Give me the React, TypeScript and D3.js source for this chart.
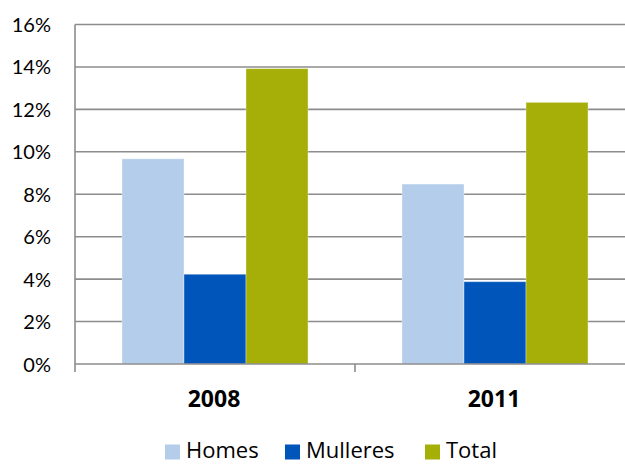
import React from "react";
import * as d3 from "d3";

const categories = ["2008", "2011"];
const seriesNames = ["Homes", "Mulleres", "Total"];
const homes = [9.67, 8.48];
const mulleres = [4.23, 3.88];
const total = [13.92, 12.33];
const yTicks = [0, 2, 4, 6, 8, 10, 12, 14, 16];
const colors = ["#B3CDEB", "#0055BB", "#A5AF07"];

export default function App() {
  const W = 625, H = 464;
  const left = 75, right = 635, top = 24.5, bottom = 364;
  const font = "'Open Sans', Lato, sans-serif";
  const x0 = d3.scaleBand().domain(categories).range([left, right]).paddingInner(0).paddingOuter(0);
  const catW = x0.bandwidth();
  const x1 = d3.scaleBand().domain(seriesNames).range([47, catW - 47]).padding(0);
  const y = d3.scaleLinear().domain([0, 16]).range([bottom, top]);
  const values = [homes, mulleres, total];

  const legendItems = [
    { sx: 165, tx: 186 },
    { sx: 285, tx: 306 },
    { sx: 425, tx: 446 },
  ];

  return (
    <svg width={W} height={H} style={{ position: "absolute", left: 0, top: 0 }} fontFamily={font}>
      <rect width={W} height={H} fill="#fff" />
      {yTicks.map((t) => (
        <g key={t}>
          {t > 0 && (
            <line x1={left} x2={W} y1={y(t)} y2={y(t)} stroke="#8c8c8c" strokeWidth={1.6} />
          )}
          <text x={51} y={y(t) + 7.5} textAnchor="end" fontSize={20} fontFamily="Lato, sans-serif" fill="#000">
            {t}%
          </text>
        </g>
      ))}
      {categories.map((c, ci) =>
        seriesNames.map((s, si) => {
          const v = values[si][ci];
          return (
            <rect
              key={c + s}
              x={(x0(c) as number) + (x1(s) as number)}
              y={y(v)}
              width={x1.bandwidth()}
              height={bottom - y(v)}
              fill={colors[si]}
              stroke="rgba(255,255,255,0.35)"
              strokeWidth={1}
            />
          );
        })
      )}
      <line x1={left} x2={W} y1={bottom} y2={bottom} stroke="#8c8c8c" strokeWidth={1.6} />
      <line x1={left} x2={left} y1={top} y2={bottom + 8} stroke="#8c8c8c" strokeWidth={1.6} />
      {categories.slice(1).map((c) => (
        <line key={c} x1={x0(c) as number} x2={x0(c) as number} y1={bottom} y2={bottom + 8} stroke="#8c8c8c" strokeWidth={1.6} />
      ))}
      {categories.map((c) => (
        <text key={c} x={(x0(c) as number) + catW / 2 - 1} y={406.5} textAnchor="middle" fontSize={23} fontWeight="bold" fill="#000">
          {c}
        </text>
      ))}
      {legendItems.map((l, i) => (
        <g key={seriesNames[i]}>
          <rect x={l.sx} y={444.5} width={15} height={15} fill={colors[i]} />
          <text x={l.tx} y={458} fontSize={22} fill="#000">
            {seriesNames[i]}
          </text>
        </g>
      ))}
    </svg>
  );
}
